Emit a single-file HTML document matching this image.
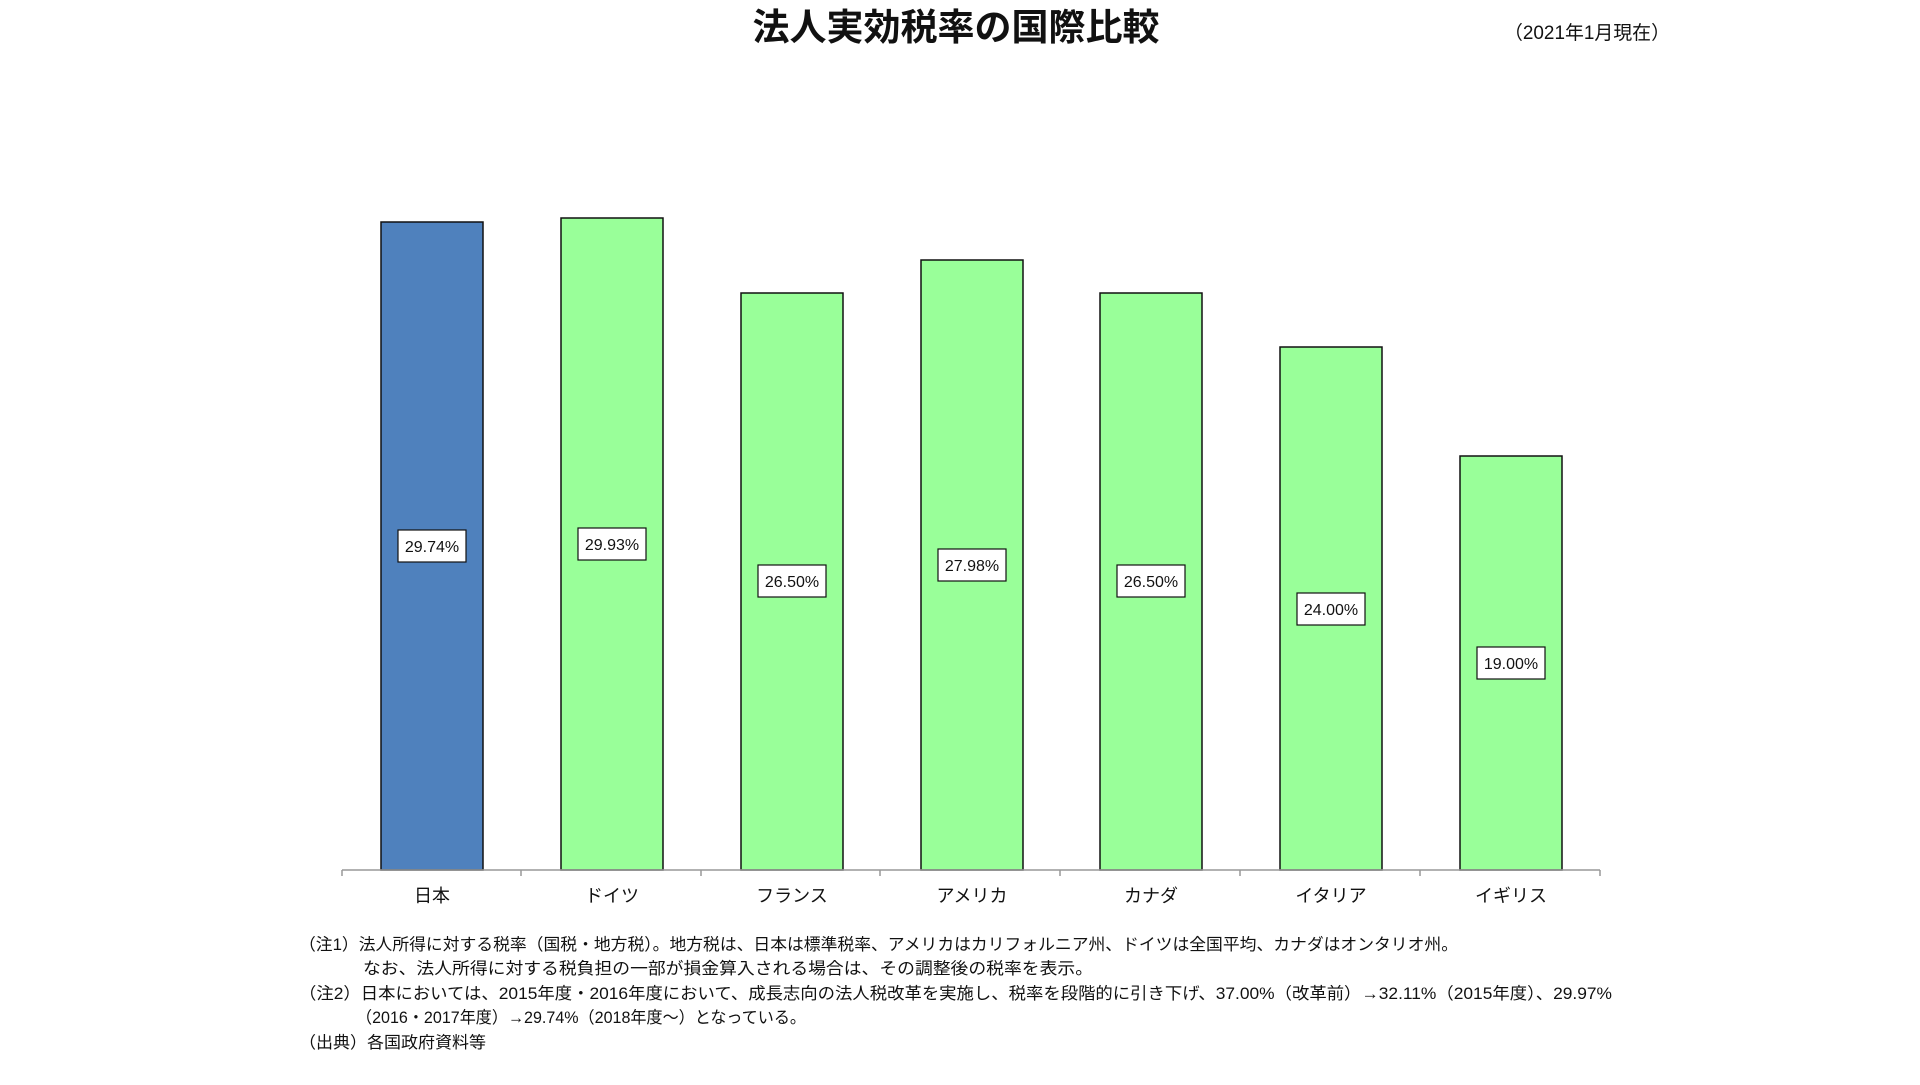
<!DOCTYPE html>
<html><head><meta charset="utf-8"><style>
body{margin:0;width:1920px;height:1080px;background:#fff;overflow:hidden;font-family:"Liberation Sans","Noto Sans CJK JP",sans-serif;}
svg text{font-family:"Liberation Sans","Noto Sans CJK JP",sans-serif;}
</style></head><body>
<svg width="1920" height="1080" xmlns="http://www.w3.org/2000/svg">
<text x="956" y="40" font-size="37" font-weight="bold" text-anchor="middle" fill="#111">法人実効税率の国際比較</text>
<text x="1587" y="39" font-size="19" text-anchor="middle" fill="#111" textLength="166" lengthAdjust="spacingAndGlyphs">（2021年1月現在）</text>
<g stroke="#111" stroke-width="1.5">
<rect x="381" y="222" width="102" height="648" fill="#4f81bd"/>
<rect x="561" y="218" width="102" height="652" fill="#99ff99"/>
<rect x="741" y="293" width="102" height="577" fill="#99ff99"/>
<rect x="921" y="260" width="102" height="610" fill="#99ff99"/>
<rect x="1100" y="293" width="102" height="577" fill="#99ff99"/>
<rect x="1280" y="347" width="102" height="523" fill="#99ff99"/>
<rect x="1460" y="456" width="102" height="414" fill="#99ff99"/>
</g>
<g stroke="#999" stroke-width="1.5">
<line x1="342" y1="870" x2="1600" y2="870"/>
<line x1="342" y1="870" x2="342" y2="876"/><line x1="521" y1="870" x2="521" y2="876"/><line x1="701" y1="870" x2="701" y2="876"/><line x1="880" y1="870" x2="880" y2="876"/><line x1="1060" y1="870" x2="1060" y2="876"/><line x1="1240" y1="870" x2="1240" y2="876"/><line x1="1420" y1="870" x2="1420" y2="876"/><line x1="1600" y1="870" x2="1600" y2="876"/>
</g>
<g font-size="16" text-anchor="middle" fill="#111">
<g stroke="#111" stroke-width="1.2" fill="#fff">
<rect x="398" y="530" width="68" height="32"/><rect x="578" y="528" width="68" height="32"/><rect x="758" y="565" width="68" height="32"/><rect x="938" y="549" width="68" height="32"/><rect x="1117" y="565" width="68" height="32"/><rect x="1297" y="593" width="68" height="32"/><rect x="1477" y="647" width="68" height="32"/>
</g>
<text x="432" y="552">29.74%</text><text x="612" y="550">29.93%</text><text x="792" y="587">26.50%</text><text x="972" y="571">27.98%</text><text x="1151" y="587">26.50%</text><text x="1331" y="615">24.00%</text><text x="1511" y="669">19.00%</text>
</g>
<g font-size="18" text-anchor="middle" fill="#111">
<text x="432" y="902">日本</text><text x="612" y="902">ドイツ</text><text x="792" y="902">フランス</text><text x="972" y="902">アメリカ</text><text x="1151" y="902">カナダ</text><text x="1331" y="902">イタリア</text><text x="1511" y="902">イギリス</text>
</g>
<g font-size="16.5" fill="#111">
<text x="299" y="950" textLength="1159" lengthAdjust="spacingAndGlyphs">（注1）法人所得に対する税率（国税・地方税）。地方税は、日本は標準税率、アメリカはカリフォルニア州、ドイツは全国平均、カナダはオンタリオ州。</text>
<text x="363" y="974" textLength="730" lengthAdjust="spacingAndGlyphs">なお、法人所得に対する税負担の一部が損金算入される場合は、その調整後の税率を表示。</text>
<text x="299" y="999" textLength="1313" lengthAdjust="spacingAndGlyphs">（注2）日本においては、2015年度・2016年度において、成長志向の法人税改革を実施し、税率を段階的に引き下げ、37.00%（改革前）→32.11%（2015年度）、29.97%</text>
<text x="356" y="1023" textLength="450" lengthAdjust="spacingAndGlyphs">（2016・2017年度）→29.74%（2018年度～）となっている。</text>
<text x="299" y="1048" textLength="187" lengthAdjust="spacingAndGlyphs">（出典）各国政府資料等</text>
</g>
</svg>
</body></html>
